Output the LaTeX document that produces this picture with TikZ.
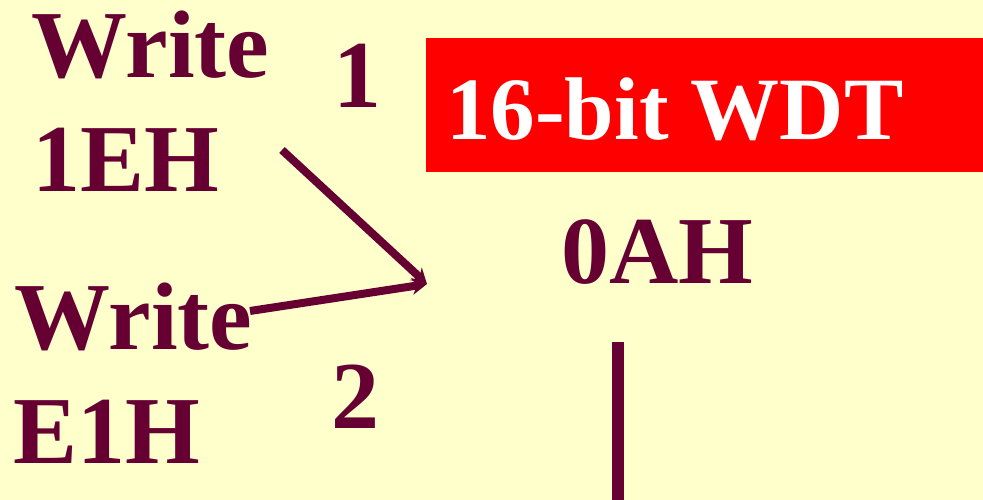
\documentclass[tikz,border=0pt]{standalone}
\usepackage{fontspec}
\setmainfont{Liberation Serif}
\usetikzlibrary{arrows.meta}
\definecolor{maroon}{HTML}{660033}
\definecolor{paper}{HTML}{FFFFCC}
\tikzset{
  big/.style={anchor=base west, inner sep=0pt, text=maroon,
    font=\fontsize{96}{100}\selectfont\bfseries},
  wire/.style={draw=maroon, line width=8pt}
}
\begin{document}
\begin{tikzpicture}[x=1pt,y=-1pt]
      \fill[paper] (0,0) rectangle (983,500);
      \useasboundingbox (0,0) rectangle (983,500);
      \fill[red] (426,38) rectangle (983,172);
      \node[big] (w1) at (31,78) {Write};
      \node[big] (h1) at (32,192) {1EH};
      \node[big] (n1) at (333,108) {1};
      \node[big] (w2) at (14,349) {Write};
      \node[big] (h2) at (13,463) {E1H};
      \node[big] (n2) at (331,428) {2};
      \node[big] (ah) at (561,283) {0AH};
      \node[big, text=white, font=\fontsize{89}{100}\selectfont\bfseries] (wdt) at (446,140) {16-bit WDT};
      \coordinate (s1) at (282,150);
      \coordinate (s2) at (250,311);
      \coordinate (tip) at (427,284);
      \coordinate (top) at (618,342);
      \coordinate (bot) at (618,500);
      \begin{scope}[-{Stealth[length=15pt,width=17pt]}]
        \draw[wire] (s1) to (tip);
        \draw[wire] (s2) to (tip);
      \end{scope}
      \draw[draw=maroon, line width=12pt] (top) to (bot);
    \end{tikzpicture}
\end{document}
